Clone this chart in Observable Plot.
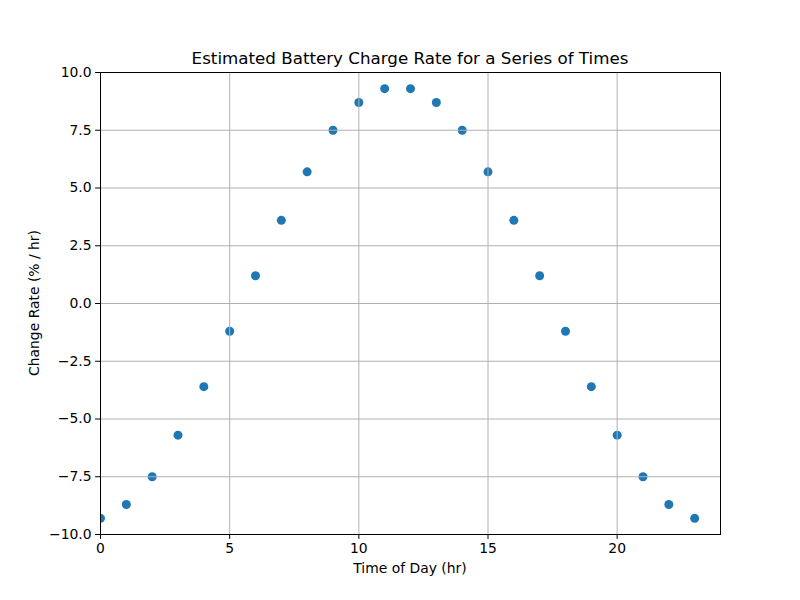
<!DOCTYPE html>
<html><head><meta charset="utf-8">
<script src="https://cdn.jsdelivr.net/npm/d3@7"></script>
<script src="https://cdn.jsdelivr.net/npm/@observablehq/plot@0.6"></script>
<style>
body{margin:0;background:#fff;font-family:"DejaVu Sans",sans-serif;}
#wrap{position:relative;width:800px;height:600px;}
.t{position:absolute;color:#000;white-space:nowrap;}
</style></head>
<body><div id="wrap">
<div class="t" id="title" style="left:100px;width:620px;top:48px;text-align:center;font-size:16.7px;">Estimated Battery Charge Rate for a Series of Times</div>
<div class="t" id="xl" style="left:100px;width:620px;top:560px;text-align:center;font-size:13.9px;">Time of Day (hr)</div>
<div class="t" id="yl" style="left:34px;top:303px;font-size:13.9px;transform:translate(-50%,-50%) rotate(-90deg);">Change Rate (% / hr)</div>
</div>
<script>
const hours = [0,1,2,3,4,5,6,7,8,9,10,11,12,13,14,15,16,17,18,19,20,21,22,23];
const rates = [-9.3,-8.7,-7.5,-5.7,-3.6,-1.2,1.2,3.6,5.7,7.5,8.7,9.3,9.3,8.7,7.5,5.7,3.6,1.2,-1.2,-3.6,-5.7,-7.5,-8.7,-9.3];
const xTicks = [0,5,10,15,20];
const yTicks = [-10,-7.5,-5,-2.5,0,2.5,5,7.5,10];
const data = hours.map((h,i)=>({h, r: rates[i]}));

const plot = Plot.plot({
  width: 800, height: 600,
  marginLeft: 100, marginRight: 80, marginTop: 72, marginBottom: 66,
  style: {fontFamily: "DejaVu Sans", fontSize: "13.9px", color: "#000", background: "transparent"},
  x: {domain: [0, 24]},
  y: {domain: [-10, 10]},
  marks: [
    Plot.dot(data, {x: "h", y: "r", r: 4.5, fill: "#1f77b4", stroke: "none", clip: true}),
    Plot.gridX(xTicks, {stroke: "#b0b0b0", strokeOpacity: 1, strokeWidth: 1}),
    Plot.gridY(yTicks, {stroke: "#b0b0b0", strokeOpacity: 1, strokeWidth: 1}),
    Plot.frame({stroke: "#000", strokeWidth: 1}),
    Plot.axisX({ticks: xTicks, tickSize: 4.9, tickPadding: 4, label: null, tickFormat: d3.format("d"), strokeWidth: 1}),
    Plot.axisY({ticks: yTicks, tickSize: 4.9, tickPadding: 4, label: null, tickFormat: d3.format(".1f"), strokeWidth: 1})
  ]
});
document.getElementById("wrap").prepend(plot);
plot.style.position = "absolute"; plot.style.left = "0"; plot.style.top = "0";
</script>
</body></html>
